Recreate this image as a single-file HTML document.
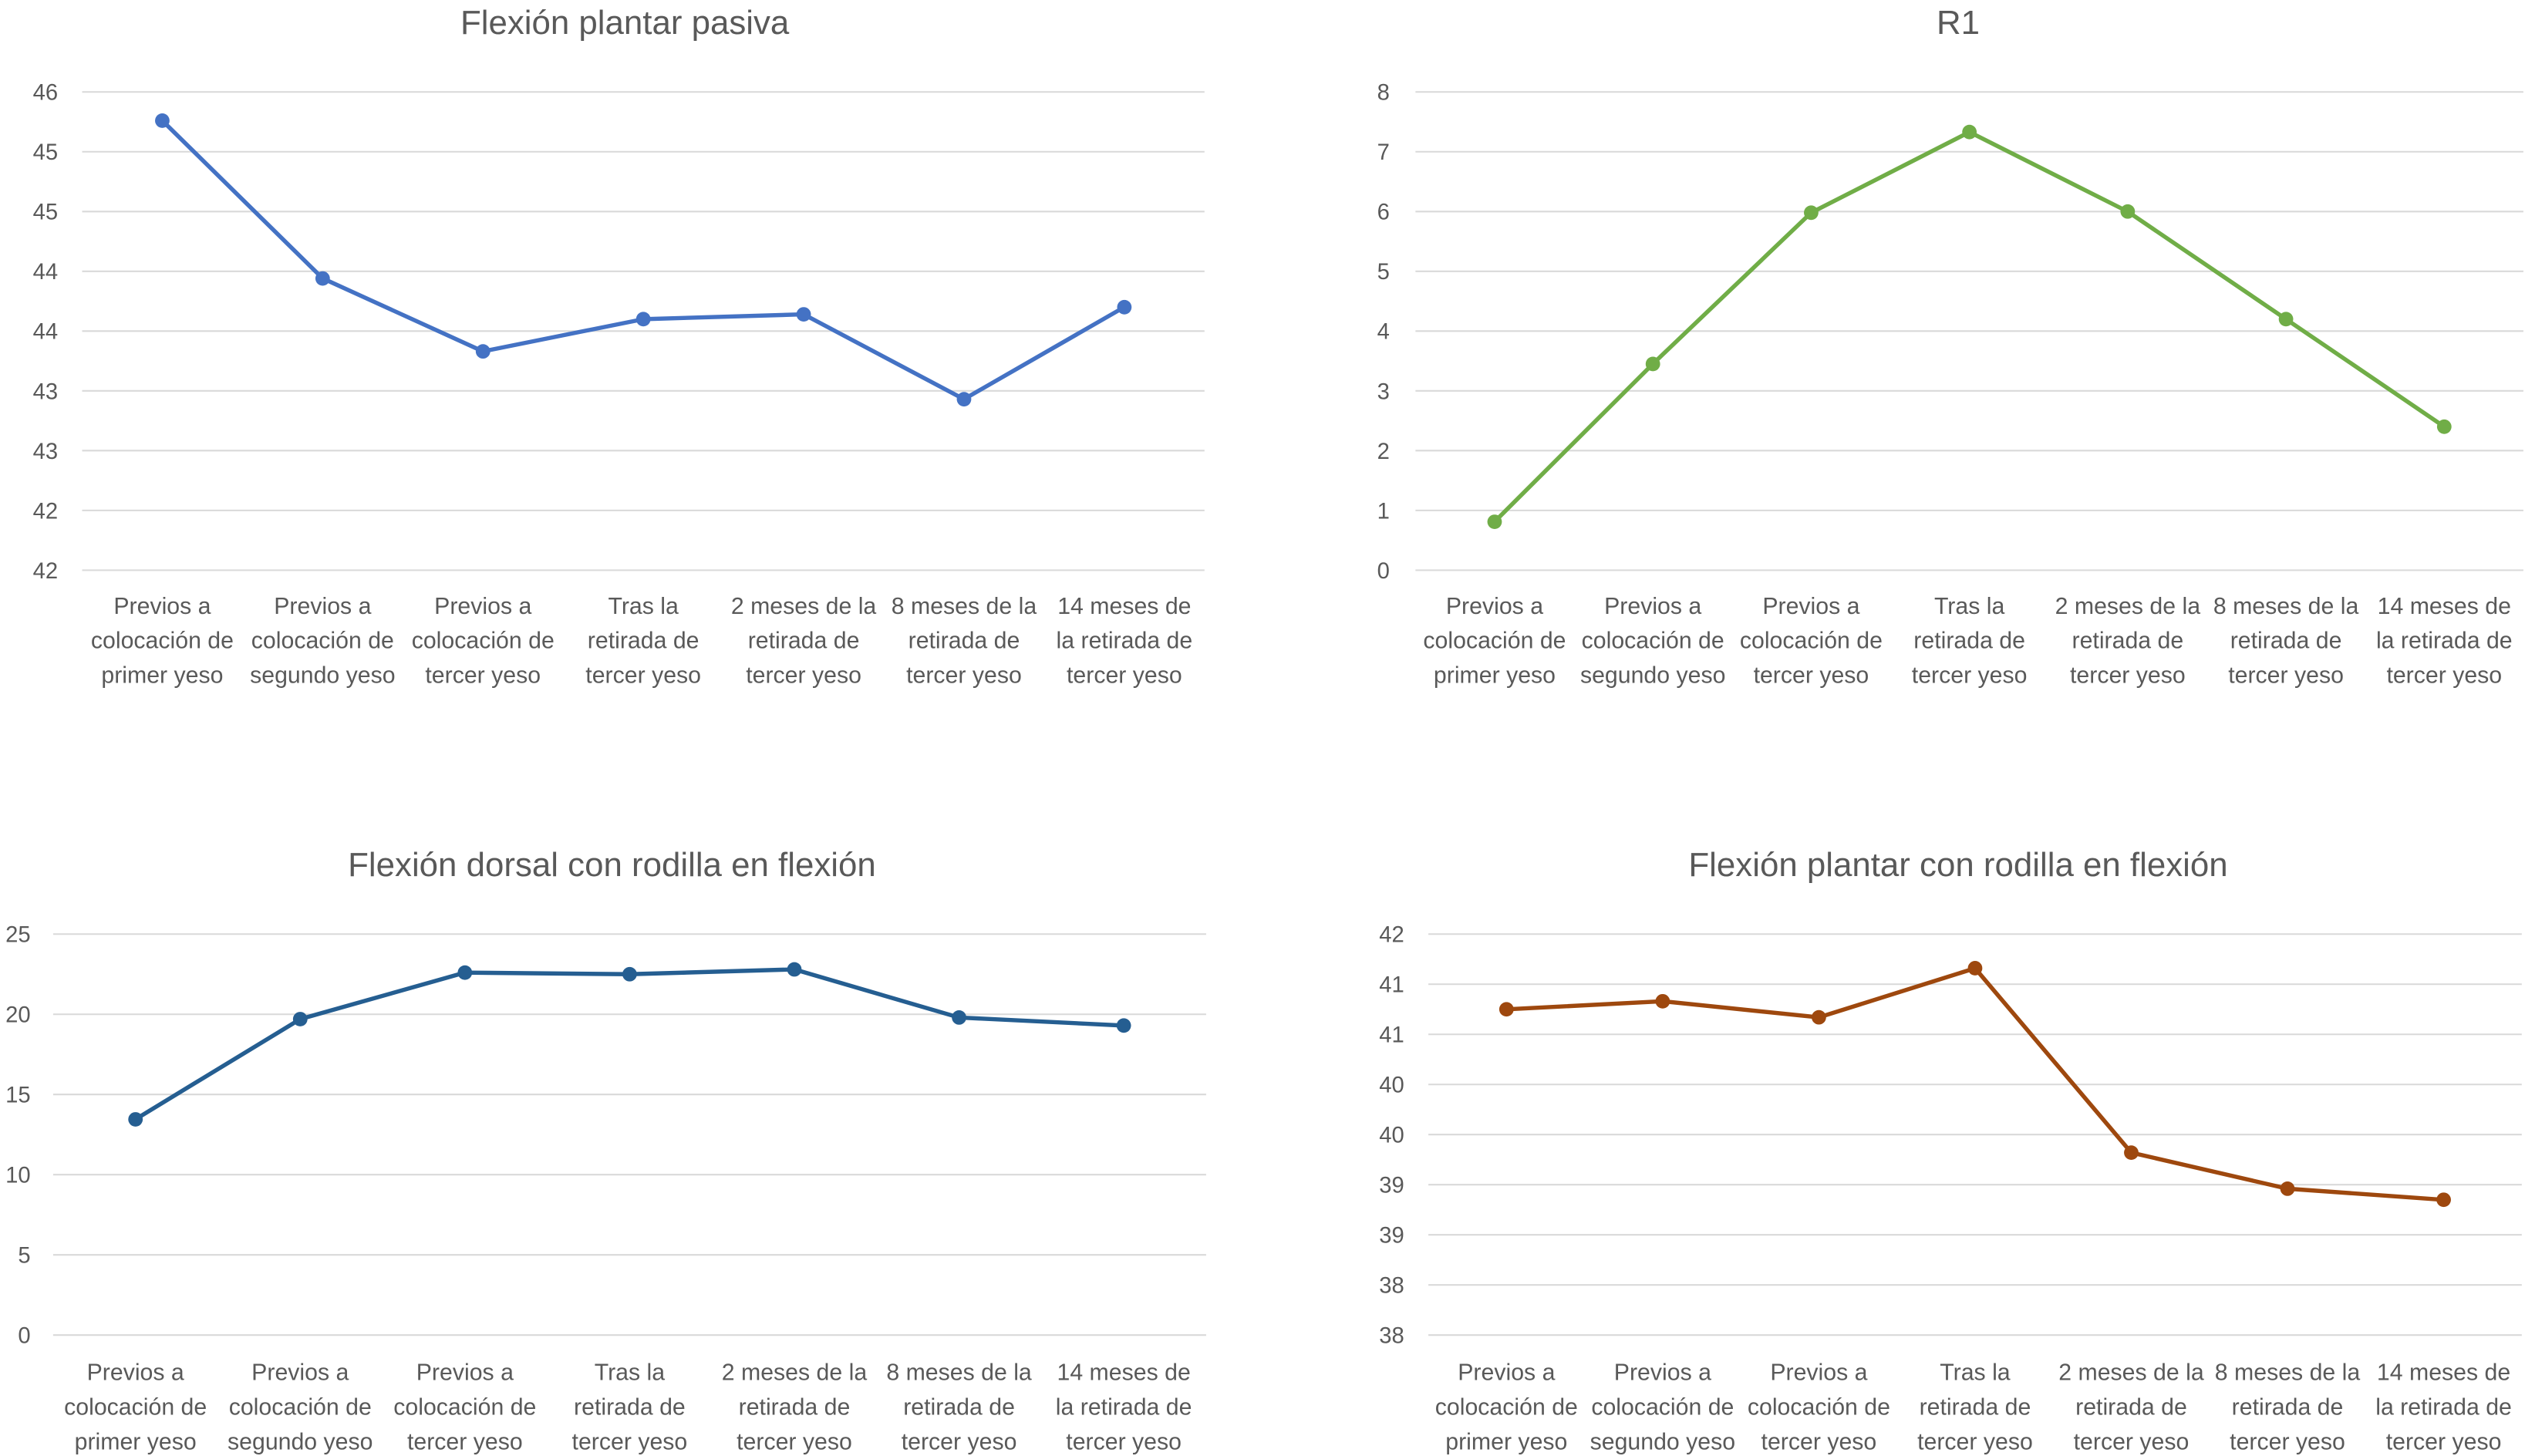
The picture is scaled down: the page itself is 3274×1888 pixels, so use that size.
<!DOCTYPE html>
<html><head><meta charset="utf-8">
<style>
html,body{margin:0;padding:0;background:#fff;}
svg{display:block;}
text{font-family:"Liberation Sans",sans-serif;fill:#595959;}
</style></head>
<body>
<svg id="c" width="3274" height="1888" viewBox="0 0 1568 904" xmlns="http://www.w3.org/2000/svg"></svg>
<script>
const categories = [
  ["Previos a","colocación de","primer yeso"],
  ["Previos a","colocación de","segundo yeso"],
  ["Previos a","colocación de","tercer yeso"],
  ["Tras la","retirada de","tercer yeso"],
  ["2 meses de la","retirada de","tercer yeso"],
  ["8 meses de la","retirada de","tercer yeso"],
  ["14 meses de","la retirada de","tercer yeso"]
];
const valuesFPP = [45.76, 44.44, 43.83, 44.10, 44.14, 43.43, 44.20];
const valuesR1 = [0.81, 3.45, 5.98, 7.33, 6.0, 4.2, 2.4];
const valuesFDR = [13.45, 19.7, 22.6, 22.5, 22.8, 19.8, 19.3];
const valuesFPR = [41.25, 41.33, 41.17, 41.66, 39.82, 39.46, 39.35];
const ticksFPP = ["46","45","45","44","44","43","43","42","42"];
const ticksR1 = ["8","7","6","5","4","3","2","1","0"];
const ticksFDR = ["25","20","15","10","5","0"];
const ticksFPR = ["42","41","41","40","40","39","39","38","38"];

const NS="http://www.w3.org/2000/svg";
const svg=document.getElementById('c');
function mk(tag,attrs,parent){const e=document.createElementNS(NS,tag);for(const k in attrs)e.setAttribute(k,attrs[k]);(parent||svg).appendChild(e);return e;}

function chart(cfg){
  const g=mk('g',{});
  
  
  const t=mk('text',{x:cfg.titleX,y:cfg.titleY,'text-anchor':'middle','font-size':21},g);
  t.textContent=cfg.title;
  
  
  const y=v=>cfg.yBot-(v-cfg.min)/(cfg.max-cfg.min)*(cfg.yBot-cfg.yTop);
  const n=cfg.ticks.length;
  cfg.ticks.forEach((lab,i)=>{
    const yy=cfg.yTop+i*(cfg.yBot-cfg.yTop)/(n-1);
    const l=mk('line',{x1:cfg.x0,x2:cfg.x1,y1:yy,y2:yy,stroke:'#d9d9d9','stroke-width':1},g);
    
    
    const tx=mk('text',{x:cfg.tickX,y:yy+5,'text-anchor':'end','font-size':14},g);
    tx.textContent=lab;
    
    
  });
  const step=(cfg.x1-cfg.x0)/categories.length;
  const xc=i=>cfg.x0+step*(i+0.5);
  categories.forEach((c,i)=>{
    c.forEach((ln,j)=>{
      const tx=mk('text',{x:xc(i),y:cfg.labY+j*21.5,'text-anchor':'middle','font-size':14.5},g);
      tx.textContent=ln;
      
      
    });
  });
  const pts=cfg.values.map((v,i)=>xc(i).toFixed(1)+','+y(v).toFixed(1)).join(' ');
  const pl=mk('polyline',{points:pts,fill:'none',stroke:cfg.color,'stroke-width':2.6,'stroke-linejoin':'round'},g);
  
  
  cfg.values.forEach((v,i)=>{
    const c=mk('circle',{cx:xc(i),cy:y(v),r:4.5,fill:cfg.color},g);
    
    
  });
}
chart({name:'chart-flexion-plantar-pasiva',title:'Flexión plantar pasiva',titleX:388,titleY:21,values:valuesFPP,ticks:ticksFPP,min:42,max:46,yTop:57,yBot:354,x0:51,x1:748,tickX:36,labY:381,color:'#4472C4'});
chart({name:'chart-r1',title:'R1',titleX:1216,titleY:21,values:valuesR1,ticks:ticksR1,min:0,max:8,yTop:57,yBot:354,x0:879,x1:1567,tickX:863,labY:381,color:'#70AD47'});
chart({name:'chart-flexion-dorsal-rodilla',title:'Flexión dorsal con rodilla en flexión',titleX:380,titleY:544,values:valuesFDR,ticks:ticksFDR,min:0,max:25,yTop:580,yBot:829,x0:33,x1:749,tickX:19,labY:857,color:'#255E91'});
chart({name:'chart-flexion-plantar-rodilla',title:'Flexión plantar con rodilla en flexión',titleX:1216,titleY:544,values:valuesFPR,ticks:ticksFPR,min:38,max:42,yTop:580,yBot:829,x0:887,x1:1566,tickX:872,labY:857,color:'#9E480E'});
</script>
</body></html>
